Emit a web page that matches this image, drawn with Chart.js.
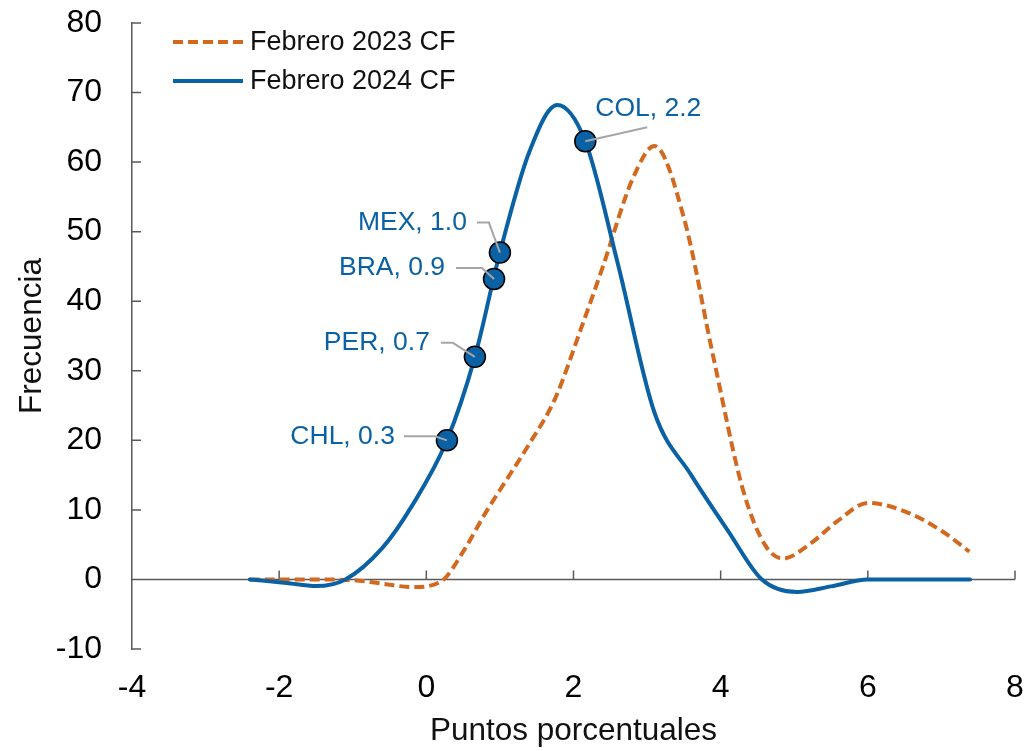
<!DOCTYPE html>
<html>
<head>
<meta charset="utf-8">
<script src="https://cdn.jsdelivr.net/npm/chart.js@4.4.1/dist/chart.umd.min.js"></script>
<style>
  html, body { margin: 0; padding: 0; background: #fff; }
  #wrap { width: 1028px; height: 751px; position: relative; }
</style>
</head>
<body>
<div id="wrap"><canvas id="grafico"></canvas></div>
<script>
// Datos
var xFeb2023 = [-2.4, -2.0, -1.5, -1.0, -0.6, -0.2, 0.2, 0.5, 0.8, 1.1, 1.4, 1.75, 2.1, 2.4, 2.8, 3.1, 3.5, 3.9, 4.3, 4.6, 4.85, 5.2, 5.6, 6.0, 6.5, 7.0, 7.38];
var yFeb2023 = [0, 0, 0, -0.1, -0.6, -1.1, -0.3, 4, 9.5, 14.5, 19.5, 26, 36, 45, 57.5, 62.3, 52, 32, 13, 5, 3, 5, 8.5, 11, 9.8, 7, 4];

var xFeb2024 = [-2.4, -1.9, -1.5, -1.1, -0.6, -0.2, 0.28, 0.66, 1.0, 1.4, 1.78, 2.16, 2.6, 3.1, 3.6, 4.1, 4.56, 5.04, 5.5, 6.0, 6.5, 7.0, 7.39];
var yFeb2024 = [0, -0.5, -0.95, 0, 4.5, 10.5, 20, 32, 47, 61.5, 68.2, 63, 45.5, 24, 15, 7, 0, -1.8, -1.0, 0, 0, 0, 0];

var paises = ['CHL', 'PER', 'BRA', 'MEX', 'COL'];
var valoresPais = ['0.3', '0.7', '0.9', '1.0', '2.2'];
var xPais = [0.28, 0.66, 0.92, 1.0, 2.16];
var yPais = [20, 32, 43.2, 47, 63];

var xTicks = [-4, -2, 0, 2, 4, 6, 8];
var yTicks = [-10, 0, 10, 20, 30, 40, 50, 60, 70, 80];

var etiquetasSerie = ['Febrero 2023 CF', 'Febrero 2024 CF'];

// Estilos
var AZUL = '#0a61a4';
var NARANJA = '#d2691f';
var GRIS_EJE = '#5a5a5a';
var FUENTE = "'Liberation Sans', Arial, sans-serif";

// Posicion de las etiquetas de los paises (pixeles relativos al punto)
var guiaPais = {
  CHL: { bx: -12, by: -4, ex: -43, tx: -52, ty: -4, align: 'right' },
  PER: { bx: -22, by: -14, ex: -34, tx: -45, ty: -14, align: 'right' },
  BRA: { bx: -12, by: -11, ex: -38, tx: -49, ty: -11, align: 'right' },
  MEX: { bx: -11, by: -30, ex: -23, tx: -33, ty: -30, align: 'right' },
  COL: { bx: 62, by: -14, ex: 62, tx: 10, ty: -33, align: 'left' }
};

function aPuntos(xs, ys) {
  return xs.map(function(x, i) { return { x: x, y: ys[i] }; });
}

// Plugin: linea cero, marcas de ejes, etiquetas de paises y leyenda
var decoracion = {
  id: 'decoracion',
  beforeDatasetsDraw: function(chart) {
    var ctx = chart.ctx;
    var sx = chart.scales.x, sy = chart.scales.y;
    var y0 = sy.getPixelForValue(0);
    ctx.save();
    ctx.strokeStyle = GRIS_EJE;
    ctx.lineWidth = 1.5;
    ctx.beginPath();
    ctx.moveTo(sx.left, y0);
    ctx.lineTo(sx.right, y0);
    xTicks.forEach(function(t) {
      if (t === -4) return;
      var px = sx.getPixelForValue(t);
      ctx.moveTo(px, y0);
      ctx.lineTo(px, y0 - 9);
    });
    yTicks.forEach(function(t) {
      var py = sy.getPixelForValue(t);
      ctx.moveTo(sx.left, py);
      ctx.lineTo(sx.left + 9, py);
    });
    ctx.stroke();
    ctx.restore();
  },
  afterDatasetsDraw: function(chart) {
    var ctx = chart.ctx;
    var sx = chart.scales.x, sy = chart.scales.y;
    ctx.save();
    // etiquetas de paises
    ctx.font = '26.5px ' + FUENTE;
    ctx.textBaseline = 'middle';
    paises.forEach(function(p, i) {
      var g = guiaPais[p];
      var px = sx.getPixelForValue(xPais[i]);
      var py = sy.getPixelForValue(yPais[i]);
      ctx.strokeStyle = '#a6a6a6';
      ctx.lineWidth = 2;
      ctx.beginPath();
      ctx.moveTo(px, py);
      ctx.lineTo(px + g.bx, py + g.by);
      ctx.lineTo(px + g.ex, py + g.by);
      ctx.stroke();
      ctx.fillStyle = AZUL;
      ctx.textAlign = g.align;
      ctx.fillText(p + ', ' + valoresPais[i], px + g.tx, py + g.ty);
    });
    // leyenda
    var colores = [NARANJA, AZUL];
    var guiones = [[10, 5], []];
    var ys = [42, 81];
    ctx.font = '27px ' + FUENTE;
    ctx.textAlign = 'left';
    etiquetasSerie.forEach(function(txt, i) {
      ctx.strokeStyle = colores[i];
      ctx.lineWidth = 4;
      ctx.setLineDash(guiones[i]);
      ctx.beginPath();
      ctx.moveTo(173, ys[i]);
      ctx.lineTo(243, ys[i]);
      ctx.stroke();
      ctx.setLineDash([]);
      ctx.fillStyle = '#111';
      ctx.fillText(txt, 250, ys[i] + 1);
    });
    ctx.restore();
  }
};

var grafico = new Chart(document.getElementById('grafico'), {
  type: 'scatter',
  data: {
    datasets: [
      {
        label: 'Paises',
        data: aPuntos(xPais, yPais),
        backgroundColor: AZUL,
        borderColor: '#000',
        borderWidth: 1.5,
        pointRadius: 10.5,
        showLine: false
      },
      {
        label: etiquetasSerie[1],
        data: aPuntos(xFeb2024, yFeb2024),
        borderColor: AZUL,
        borderWidth: 4,
        pointRadius: 0,
        showLine: true,
        cubicInterpolationMode: 'monotone',
        borderCapStyle: 'round'
      },
      {
        label: etiquetasSerie[0],
        data: aPuntos(xFeb2023, yFeb2023),
        borderColor: NARANJA,
        borderWidth: 4,
        borderDash: [10, 5],
        pointRadius: 0,
        showLine: true,
        cubicInterpolationMode: 'monotone'
      }
    ]
  },
  options: {
    responsive: true,
    maintainAspectRatio: false,
    animation: false,
    layout: { padding: { top: 23, right: 13, left: 0, bottom: 0 } },
    plugins: {
      legend: { display: false },
      tooltip: { enabled: false }
    },
    scales: {
      x: {
        type: 'linear',
        min: -4,
        max: 8,
        afterBuildTicks: function(s) { s.ticks = xTicks.map(function(v) { return { value: v }; }); },
        afterFit: function(s) { s.height = 102; s.paddingLeft = 0; s.paddingRight = 0; },
        grid: { display: false, drawTicks: false },
        border: { display: false },
        ticks: { color: '#000', font: { family: FUENTE, size: 32 }, padding: 20, maxRotation: 0 },
        title: { display: true, text: 'Puntos porcentuales', color: '#111', font: { family: FUENTE, size: 31.5 }, padding: { top: 0, bottom: 1 } }
      },
      y: {
        min: -10,
        max: 80,
        afterBuildTicks: function(s) { s.ticks = yTicks.map(function(v) { return { value: v }; }); },
        afterFit: function(s) { s.width = 132; s.paddingTop = 0; s.paddingBottom = 0; },
        grid: { display: false, drawTicks: false },
        border: { display: true, color: GRIS_EJE, width: 1.5 },
        ticks: { color: '#000', font: { family: FUENTE, size: 32 }, padding: 30 },
        title: { display: true, text: 'Frecuencia', color: '#111', font: { family: FUENTE, size: 31.5 }, padding: { top: 13, bottom: 0 } }
      }
    }
  },
  plugins: [decoracion]
});
</script>
</body>
</html>
